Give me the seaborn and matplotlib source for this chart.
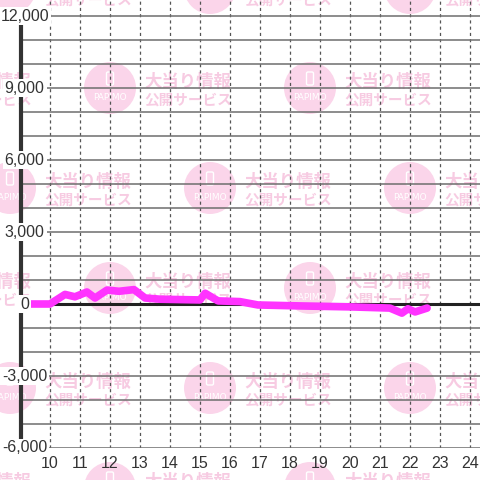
import matplotlib
matplotlib.use("Agg")
import matplotlib.pyplot as plt
import matplotlib.patches as mpatches
import seaborn as sns
import pandas as pd

# slump data (hour of day, balance)
hours = [9.03, 10.0, 10.5, 10.83, 11.23, 11.5, 11.9, 12.3, 12.8, 13.17, 13.67,
         14.5, 15.0, 15.17, 15.6, 16.33, 16.93, 18.33, 20.0, 21.33, 21.73,
         21.93, 22.17, 22.57]
balance = [0, 0, 400, 300, 500, 250, 580, 530, 600, 250, 200,
           180, 170, 450, 130, 100, -40, -80, -120, -170, -380,
           -200, -330, -170]

x_ticks = list(range(10, 25))
y_ticks = [-6000, -3000, 0, 3000, 6000, 9000, 12000]
y_labels = ["-6,000", "-3,000", "0", "3,000", "6,000", "9,000", "12,000"]
y_grid = list(range(-6000, 12001, 1000))

wm_line1 = "大当り情報"
wm_line2 = "公開サービス"
wm_logo = "PAPIMO"

sns.set_style("white")
plt.rcParams['font.family'] = ['Liberation Sans', 'DejaVu Sans']

W = 480.0
fig = plt.figure(figsize=(4.8, 4.8), dpi=100)

# watermark pattern in the background
pink_c = '#fbd5ea'
pink_t = '#f7cbe2'
for r, cy in enumerate([-12, 88, 188, 288, 388, 488]):
    off = 10 if r % 2 == 0 else 110
    for cx in range(off - 200, 600, 200):
        fx, fy = cx / W, 1 - cy / W
        fig.add_artist(mpatches.Circle((fx, fy), 26 / W, transform=fig.transFigure,
                                       facecolor=pink_c, edgecolor='none', zorder=-5))
        fig.add_artist(mpatches.FancyBboxPatch((fx - 3.5 / W, fy + 3 / W), 7 / W, 13 / W,
                                               boxstyle="round,pad=0,rounding_size=0.003",
                                               transform=fig.transFigure, facecolor='none',
                                               edgecolor='white', lw=1, zorder=-4))
        fig.text(fx, fy - 10 / W, wm_logo, color='white', fontsize=6.5, ha='center',
                 va='center', zorder=-4, family=['DejaVu Sans'])
        fig.text(fx + 34 / W, fy + 6 / W, wm_line1, color=pink_t, fontsize=12.5,
                 fontweight='bold', ha='left', va='center', zorder=-4,
                 family=['Noto Sans CJK JP', 'DejaVu Sans'])
        fig.text(fx + 34 / W, fy - 12 / W, wm_line2, color=pink_t, fontsize=10.5,
                 fontweight='bold', ha='left', va='center', zorder=-4,
                 family=['Noto Sans CJK JP', 'DejaVu Sans'])

ax = fig.add_axes([21 / W, 32 / W, (W - 21) / W, 448 / W])
ax.patch.set_alpha(0)

x_lo, x_hi = 9.033, 24.333
y_lo, y_hi = -6000, 12667

df = pd.DataFrame({"hour": hours, "balance": balance})
ax.axhline(0, color='#222222', lw=2.2, zorder=2)
sns.lineplot(data=df, x="hour", y="balance", color='#ff33ff', lw=5.5, ax=ax, zorder=3)

ax.set_xlim(x_lo, x_hi)
ax.set_ylim(y_lo, y_hi)

ax.set_yticks(y_grid)
ax.set_yticklabels([])
ax.set_xticks(x_ticks, [str(h) for h in x_ticks])
ax.yaxis.grid(True, color='#6e6e6e', lw=1.1)
ax.xaxis.grid(True, color='#555555', lw=0.9, linestyle=(0, (2.5, 2.5)))
ax.set_axisbelow(True)

for s in ax.spines.values():
    s.set_visible(False)
# thick left axis line, kept under the y labels
ax.axvline(x_lo, ymin=0, ymax=(12000 - y_lo) / (y_hi - y_lo), color='#333333',
           lw=3, zorder=1.5, clip_on=False)

ax.tick_params(axis='both', which='both', length=0)
ax.tick_params(axis='x', labelsize=11.5, labelcolor='#333333', pad=6)

# y labels sit on top of the axis line with a white backing
ytrans = ax.get_yaxis_transform()
for v, lab in zip(y_ticks, y_labels):
    ax.text(0.008, v, lab, transform=ytrans, ha='center', va='center', fontsize=11.5,
            color='#333333', zorder=10, clip_on=False,
            bbox=dict(facecolor='white', edgecolor='none', pad=1.4))

ax.set_xlabel("")
ax.set_ylabel("")

fig.savefig("out.png", dpi=100)
